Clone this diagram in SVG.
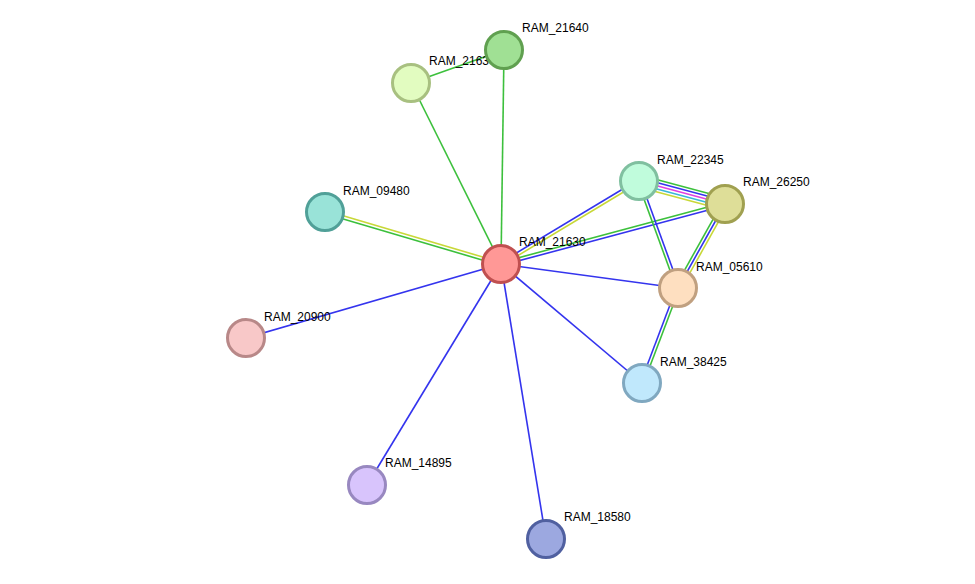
<svg xmlns="http://www.w3.org/2000/svg" width="975" height="584" viewBox="0 0 975 584">
<style>
line{stroke-width:1.6}
.g{stroke:#3cc03c}.b{stroke:#3434ee}.y{stroke:#c8d838}.m{stroke:#e040e0}.c{stroke:#38b8d8}
circle{stroke-width:3}
text{font-family:"Liberation Sans",Arial,sans-serif;font-size:12px;fill:#000}
</style>
<rect width="975" height="584" fill="#fff"/>
<g id="connectors">
<line class="g" x1="501" y1="264" x2="504" y2="50"/>
<line class="g" x1="501" y1="264" x2="411" y2="83"/>
<line class="g" x1="411" y1="83" x2="504" y2="50"/>
<line class="g" x1="501" y1="264" x2="325" y2="212" transform="translate(-0.42,1.44)"/>
<line class="y" x1="501" y1="264" x2="325" y2="212" transform="translate(0.42,-1.44)"/>
<line class="b" x1="501" y1="264" x2="246" y2="338"/>
<line class="b" x1="501" y1="264" x2="367" y2="485"/>
<line class="b" x1="501" y1="264" x2="546" y2="539"/>
<line class="b" x1="501" y1="264" x2="642" y2="383"/>
<line class="b" x1="501" y1="264" x2="678" y2="288"/>
<line class="b" x1="501" y1="264" x2="639" y2="181" transform="translate(-0.77,-1.29)"/>
<line class="y" x1="501" y1="264" x2="639" y2="181" transform="translate(0.77,1.29)"/>
<line class="g" x1="501" y1="264" x2="725" y2="204" transform="translate(-0.39,-1.45)"/>
<line class="b" x1="501" y1="264" x2="725" y2="204" transform="translate(0.39,1.45)"/>
<line class="g" x1="639" y1="181" x2="725" y2="204" transform="translate(1.54,-5.8)"/>
<line class="b" x1="639" y1="181" x2="725" y2="204" transform="translate(0.77,-2.9)"/>
<line class="m" x1="639" y1="181" x2="725" y2="204"/>
<line class="c" x1="639" y1="181" x2="725" y2="204" transform="translate(-0.77,2.9)"/>
<line class="y" x1="639" y1="181" x2="725" y2="204" transform="translate(-1.54,5.8)"/>
<line class="g" x1="639" y1="181" x2="678" y2="288" transform="translate(-1.41,0.51)"/>
<line class="b" x1="639" y1="181" x2="678" y2="288" transform="translate(1.41,-0.51)"/>
<line class="g" x1="725" y1="204" x2="678" y2="288" transform="translate(-2.6,-1.47)"/>
<line class="b" x1="725" y1="204" x2="678" y2="288"/>
<line class="y" x1="725" y1="204" x2="678" y2="288" transform="translate(2.6,1.47)"/>
<line class="b" x1="678" y1="288" x2="642" y2="383" transform="translate(-1.4,-0.53)"/>
<line class="g" x1="678" y1="288" x2="642" y2="383" transform="translate(1.4,0.53)"/>
</g>
<g id="RAM_2163"><text x="429" y="65">RAM_2163</text><circle cx="411" cy="83" r="18.5" fill="#e2fcc0" stroke="#a8c080"/></g>
<g id="RAM_21640"><circle cx="504" cy="50" r="18.5" fill="#a0e094" stroke="#60a050"/><text x="522" y="32">RAM_21640</text></g>
<g id="RAM_09480"><circle cx="325" cy="212" r="18.5" fill="#99e3d8" stroke="#50a098"/><text x="343" y="195">RAM_09480</text></g>
<g id="RAM_20900"><circle cx="246" cy="338" r="18.5" fill="#f8c8c8" stroke="#b88888"/><text x="264" y="321">RAM_20900</text></g>
<g id="RAM_14895"><circle cx="367" cy="485" r="18.5" fill="#d8c4fc" stroke="#9888c0"/><text x="385" y="467">RAM_14895</text></g>
<g id="RAM_18580"><circle cx="546" cy="539" r="18.5" fill="#9ca8e0" stroke="#5060a0"/><text x="564" y="521">RAM_18580</text></g>
<g id="RAM_38425"><circle cx="642" cy="383" r="18.5" fill="#c0e8fc" stroke="#80a8c0"/><text x="660" y="366">RAM_38425</text></g>
<g id="RAM_05610"><circle cx="678" cy="288" r="18.5" fill="#fedfc0" stroke="#c0a080"/><text x="696" y="271">RAM_05610</text></g>
<g id="RAM_26250"><circle cx="725" cy="204" r="18.5" fill="#dede98" stroke="#a0a050"/><text x="743" y="186">RAM_26250</text></g>
<g id="RAM_22345"><circle cx="639" cy="181" r="18.5" fill="#c0fcdc" stroke="#80c0a0"/><text x="657" y="164">RAM_22345</text></g>
<g id="RAM_21630"><circle cx="501" cy="264" r="18.5" fill="#ff9896" stroke="#c05050"/><text x="519" y="246">RAM_21630</text></g>
</svg>
